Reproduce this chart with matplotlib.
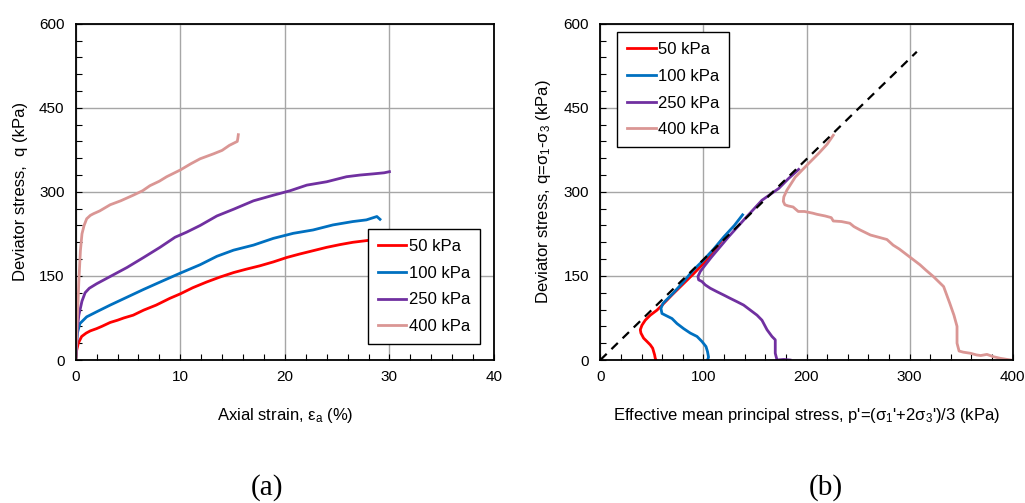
import matplotlib
matplotlib.use("Agg")
import matplotlib.pyplot as plt
from matplotlib.ticker import MultipleLocator

plt.rcParams['font.family'] = ['Liberation Sans', 'DejaVu Sans']
plt.rcParams['mathtext.fontset'] = 'custom'
plt.rcParams['mathtext.rm'] = 'Liberation Sans'
plt.rcParams['mathtext.it'] = 'Liberation Sans'
plt.rcParams['mathtext.default'] = 'regular'

# ---------------- data ----------------
labels = ['50 kPa', '100 kPa', '250 kPa', '400 kPa']
colors = ['#FF0000', '#0070C0', '#7030A0', '#DA9694']

# (a) axial strain (%) vs deviator stress q (kPa)
ea_50 = [0, 0.1, 0.25, 0.57, 1.0, 1.4, 2.0, 2.5, 3.3, 4.0, 4.6, 5.5, 6.5, 7.7, 9.0, 10.0,
         11.2, 12.5, 13.8, 15.1, 16.3, 17.6, 18.9, 20.2, 21.4, 22.7, 24.0, 25.3, 26.5, 27.8, 29.0]
q_50 = [0, 18, 30, 42, 48, 52, 56, 60, 67, 71, 75, 80, 89, 98, 110, 118,
        129, 139, 148, 156, 162, 168, 175, 183, 189, 195, 201, 206, 210, 213, 216]

ea_100 = [0, 0.16, 0.4, 1.05, 2.0, 3.3, 4.9, 6.5, 8.06, 10.0, 11.9, 13.5, 15.1, 17.0,
          18.9, 20.8, 22.7, 24.6, 26.5, 27.8, 28.8, 29.1]
q_100 = [0, 48, 65, 77, 86, 98, 112, 126, 139, 155, 170, 185, 196, 205,
         217, 226, 232, 241, 247, 250, 256, 251]

ea_250 = [0, 0.15, 0.3, 0.6, 0.9, 1.3, 2.0, 3.3, 4.9, 6.5, 8.06, 9.5, 10.6, 11.9, 13.5,
          15.1, 17.0, 18.9, 20.5, 22.1, 24.0, 25.9, 27.2, 28.4, 29.5, 30.0]
q_250 = [0, 55, 80, 105, 120, 128, 136, 149, 165, 183, 201, 219, 228, 240, 257,
         269, 284, 294, 302, 312, 318, 327, 330, 332, 334, 336]

ea_400 = [0, 0.15, 0.3, 0.45, 0.6, 0.8, 1.05, 1.4, 1.7, 2.3, 3.3, 4.3, 5.5, 6.4, 7.1, 8.0,
          8.7, 10.0, 11.0, 11.9, 13.2, 14.0, 14.7, 15.45, 15.5, 15.55]
q_400 = [0, 70, 140, 195, 225, 240, 252, 258, 261, 266, 277, 284, 294, 302, 311, 319,
         327, 339, 350, 359, 368, 374, 383, 390, 395, 402]

# (b) effective mean principal stress p' (kPa) vs q (kPa)
p_50 = [54, 53.3, 52.7, 50.8, 48.5, 45.3, 42, 39.4, 38.8, 40.4, 43.6, 48.5, 55, 60,
        70, 80, 90, 100, 110, 118]
qp_50 = [0, 3, 9, 21, 27, 33, 39, 48, 54, 62, 71, 80, 89, 98,
         117, 135, 153, 172, 194, 214]

p_100 = [104, 105, 104, 102.5, 98.6, 93.8, 87.3, 80.8, 74.4, 69.5, 63, 59.8, 58.8, 60.8,
         70, 80, 90, 100, 110, 120, 130, 138]
qp_100 = [0, 5, 15, 24, 33, 42, 48, 56, 65, 74, 80, 83, 92, 101,
          118, 138, 160, 178, 198, 220, 240, 259]

p_250 = [184, 178, 171.4, 169.7, 169.7, 166.5, 161.7, 156.8, 152, 145.5, 139, 132.6,
         126, 119.6, 113, 106.7, 101.8, 98.6, 95.4, 94.7, 97, 102, 108, 124.5, 140.7,
         156.8, 173, 182.7, 192.4]
qp_250 = [0, 1, 0, 12, 36, 42, 54, 71, 80, 89, 98, 104,
          110, 116, 122, 128, 134, 140, 143, 149, 158, 170, 184, 220, 253,
          285, 306, 324, 340]

p_400 = [398, 388, 381, 375, 369, 365, 359, 352, 348, 346, 346, 343, 339, 336, 333, 328,
         323, 316, 310, 300, 290, 284, 278, 270, 262, 252, 246, 242, 234, 226, 224, 218,
         210, 206, 198, 192, 187, 182, 179, 177.5, 178, 181, 189, 199, 212, 220, 226]
qp_400 = [0, 3, 6, 10, 8, 9, 12, 14, 16, 30, 60, 80, 101, 116, 131, 140,
          149, 160, 170, 184, 198, 205, 215, 219, 223, 232, 238, 244, 247, 248, 254, 257,
          260, 262, 265, 265, 273, 275, 277, 283, 291, 303, 326, 345, 369, 385, 401]

csl_p = [0, 307]
csl_q = [0, 550]

# ---------------- figure ----------------
fig = plt.figure(figsize=(10.25, 5.03), dpi=100)
W, H = 1025, 503
ax1 = fig.add_axes([75.7 / W, (H - 360) / H, (494 - 75.7) / W, (360 - 23.7) / H])
ax2 = fig.add_axes([600.3 / W, (H - 360) / H, (1012.7 - 600.3) / W, (360 - 23.7) / H])


def style(ax, xmax, xmaj, xmin):
    ax.set_xlim(0, xmax)
    ax.set_ylim(0, 600)
    ax.xaxis.set_major_locator(MultipleLocator(xmaj))
    ax.xaxis.set_minor_locator(MultipleLocator(xmin))
    ax.yaxis.set_major_locator(MultipleLocator(150))
    ax.yaxis.set_minor_locator(MultipleLocator(30))
    ax.grid(True, which='major', color='#A6A6A6', linewidth=1.0)
    ax.set_axisbelow(True)
    ax.tick_params(which='both', direction='in', labelsize=11, width=0.8)
    ax.tick_params(which='major', length=4)
    ax.tick_params(which='minor', length=4)
    ax.tick_params(axis='y', pad=8)
    ax.tick_params(axis='x', pad=7)
    for s in ax.spines.values():
        s.set_linewidth(1.3)
        s.set_color('black')


style(ax1, 40, 10, 2)
style(ax2, 400, 100, 20)

lw = 2.0
for x, y, c, l in zip([ea_50, ea_100, ea_250, ea_400], [q_50, q_100, q_250, q_400], colors, labels):
    ax1.plot(x, y, color=c, lw=lw, label=l)

for x, y, c, l in zip([p_50, p_100, p_250, p_400], [qp_50, qp_100, qp_250, qp_400], colors, labels):
    ax2.plot(x, y, color=c, lw=lw, label=l)
ax2.plot(csl_p, csl_q, color='black', lw=1.6, linestyle=(0, (4, 3)))

leg_kw = dict(fontsize=12, handlelength=1.7, handletextpad=0.15, borderpad=0.6,
              labelspacing=0.7, fancybox=False, framealpha=1, edgecolor='black',
              borderaxespad=0, loc='upper left')
l1 = ax1.legend(bbox_to_anchor=(0.698, 0.3895), **leg_kw)
l2 = ax2.legend(bbox_to_anchor=(0.0412, 0.9744), **leg_kw)
for lg in (l1, l2):
    lg.get_frame().set_linewidth(1.0)

ax1.set_ylabel('Deviator stress,  q (kPa)', fontsize=12, labelpad=8)
ax1.set_xlabel(r'Axial strain, $\varepsilon_a$ (%)', fontsize=12, labelpad=16)
ax2.set_ylabel(r'Deviator stress, q=$\sigma_1$-$\sigma_3$ (kPa)', fontsize=12, labelpad=8)
ax2.set_xlabel(r"Effective mean principal stress, p'=($\sigma_1$'+2$\sigma_3$')/3 (kPa)",
               fontsize=12, labelpad=16)

fig.text(267 / W, (H - 495) / H, '(a)', fontsize=21, family='Liberation Serif',
         ha='center', va='baseline')
fig.text(826 / W, (H - 495) / H, '(b)', fontsize=21, family='Liberation Serif',
         ha='center', va='baseline')

fig.savefig('out.png', dpi=100)
